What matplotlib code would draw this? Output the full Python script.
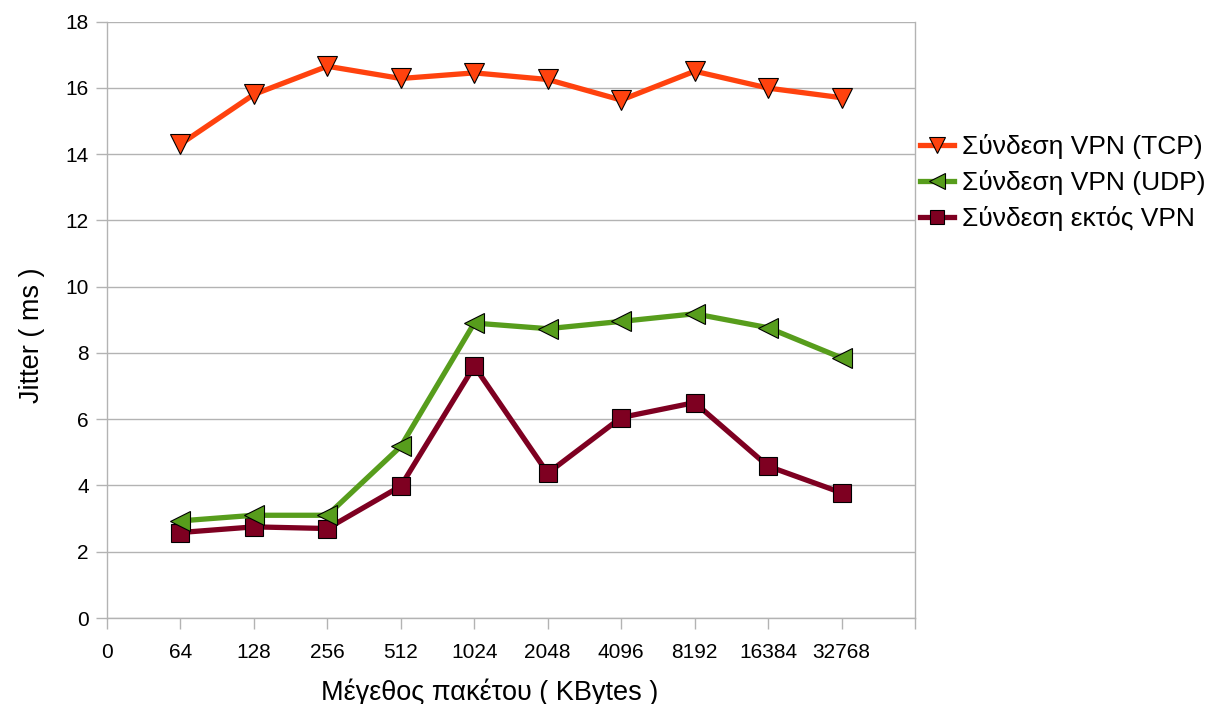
import matplotlib
matplotlib.use("Agg")
import matplotlib.pyplot as plt
from matplotlib.ticker import MultipleLocator

plt.rcParams['font.family'] = ['Liberation Sans', 'DejaVu Sans']

packet_sizes = ["64", "128", "256", "512", "1024", "2048", "4096", "8192", "16384", "32768"]
tcp_jitter = [14.3, 15.8, 16.65, 16.28, 16.45, 16.25, 15.63, 16.5, 15.99, 15.7]
udp_jitter = [2.93, 3.1, 3.1, 5.18, 8.9, 8.73, 8.95, 9.18, 8.76, 7.85]
plain_jitter = [2.58, 2.75, 2.7, 3.98, 7.6, 4.37, 6.05, 6.5, 4.58, 3.78]

series_labels = ["Σύνδεση VPN (TCP)", "Σύνδεση VPN (UDP)", "Σύνδεση εκτός VPN"]
x_label = "Μέγεθος πακέτου ( KBytes )"
y_label = "Jitter ( ms )"

fig = plt.figure(figsize=(12.18, 7.04), dpi=100)
ax = fig.add_axes([107 / 1218, 86 / 704, 808 / 1218, 596.5 / 704])

pos = list(range(1, len(packet_sizes) + 1))
ax.plot(pos, tcp_jitter, color="#ff420e", lw=3.8, marker="v", ms=14,
        mec="black", mew=0.8, label=series_labels[0], zorder=5)
ax.plot(pos, udp_jitter, color="#579d1c", lw=3.8, marker="<", ms=14,
        mec="black", mew=0.8, label=series_labels[1], zorder=4)
ax.plot(pos, plain_jitter, color="#7e0021", lw=3.8, marker="s", ms=12.5,
        mec="black", mew=0.8, label=series_labels[2], zorder=3)

ax.set_xlim(0, len(packet_sizes) + 1)
ax.set_ylim(0, 18)
ax.yaxis.set_major_locator(MultipleLocator(2))
ax.set_xticks(range(0, len(packet_sizes) + 2))
ax.set_xticklabels(["0"] + packet_sizes + [""])
ax.grid(axis="y", color="#b3b3b3", lw=1.0)
ax.set_axisbelow(True)
for s in ax.spines.values():
    s.set_color("#b3b3b3")
    s.set_linewidth(1.0)
ax.spines["top"].set_visible(False)
ax.tick_params(axis="both", colors="#b3b3b3", labelcolor="black",
               labelsize=15, length=8, width=1.0, direction="out")
ax.tick_params(axis="x", pad=10)
ax.tick_params(axis="y", pad=5)

ax.set_xlabel(x_label, fontsize=19.5, labelpad=12)
ax.set_ylabel(y_label, fontsize=19.5, labelpad=15)
ax.xaxis.label.set_x(0.474)
ax.yaxis.label.set_y(0.474)

fig.legend(loc="upper left", bbox_to_anchor=(920 / 1218, 1 - 134 / 704),
           frameon=False, fontsize=19, handlelength=1.3, handletextpad=0.3,
           labelspacing=0.42, borderaxespad=0, borderpad=0, markerscale=0.8)

fig.savefig("out.png", dpi=100)
